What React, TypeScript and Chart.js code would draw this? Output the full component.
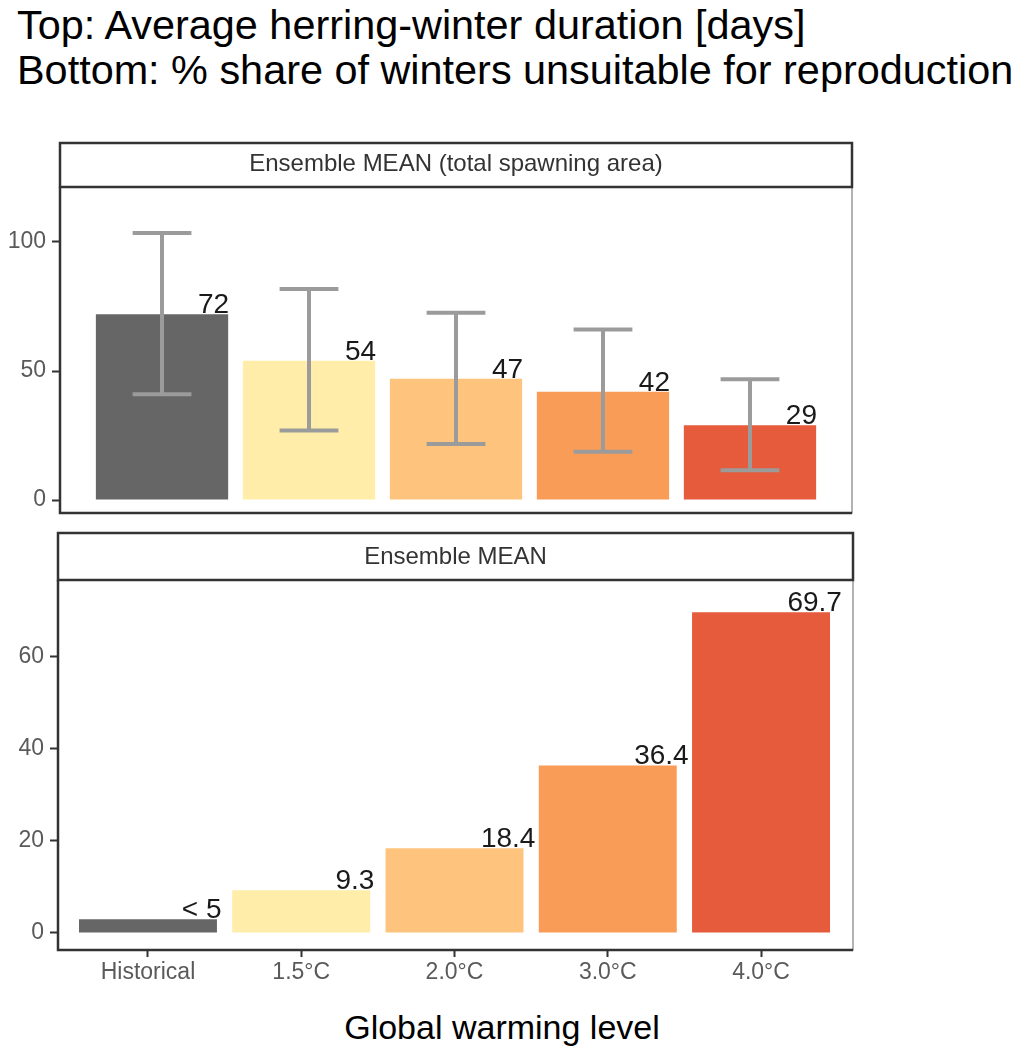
import React, { useEffect, useRef } from 'react';
import { Chart, registerables } from 'chart.js';

Chart.register(...registerables);

const FONT = '"Liberation Sans", Arial, Helvetica, sans-serif';

const levels = ['Historical', '1.5°C', '2.0°C', '3.0°C', '4.0°C'];
const barColors = ['#666666', '#FFEDA9', '#FEC47D', '#F89C57', '#E55B3B'];

// top panel: average herring-winter duration [days]
const durationMean = [72, 54, 47, 42, 29];
const durationLow = [41, 27, 21.7, 18.7, 11.6];
const durationHigh = [103.5, 81.8, 72.6, 66.1, 46.8];
const durationLabels = ['72', '54', '47', '42', '29'];
const durationTicks = [0, 50, 100];

// bottom panel: % share of winters unsuitable for reproduction
const unsuitableShare = [3, 9.3, 18.4, 36.4, 69.7];
const unsuitableLabels = ['< 5', '9.3', '18.4', '36.4', '69.7'];
const unsuitableTicks = [0, 20, 40, 60];

interface PanelProps {
  top: number;
  width: number;
  height: number;
  values: number[];
  labels: string[];
  low?: number[];
  high?: number[];
  yTicks: number[];
  yMin: number;
  yMax: number;
  xMin: number;
  xMax: number;
  strip: string;
  stripHeight: number;
  axisWidth: number;
  padding: { top: number; right: number; bottom: number; left: number };
  showX: boolean;
}

const Panel: React.FC<PanelProps> = (p) => {
  const canvasRef = useRef<HTMLCanvasElement>(null);

  useEffect(() => {
    if (!canvasRef.current) return;
    const ctx = canvasRef.current.getContext('2d');
    if (!ctx) return;

    const decor = {
      id: 'decor',
      afterDatasetsDraw(chart: any) {
        const c = chart.ctx;
        const xs = chart.scales.x;
        const ys = chart.scales.y;
        c.save();
        // error bars
        if (p.low && p.high) {
          c.strokeStyle = '#9B9B9B';
          c.lineWidth = 4;
          p.values.forEach((_, i) => {
            const x = xs.getPixelForValue(i + 1);
            const half = xs.getPixelForValue(i + 1.2) - x;
            const y1 = ys.getPixelForValue(p.low![i]);
            const y2 = ys.getPixelForValue(p.high![i]);
            c.beginPath();
            c.moveTo(x, y1);
            c.lineTo(x, y2);
            c.moveTo(x - half, y1);
            c.lineTo(x + half, y1);
            c.moveTo(x - half, y2);
            c.lineTo(x + half, y2);
            c.stroke();
          });
        }
        // value labels
        c.fillStyle = '#1a1a1a';
        c.font = `28px ${FONT}`;
        c.textAlign = 'center';
        c.textBaseline = 'alphabetic';
        p.values.forEach((v, i) => {
          c.fillText(p.labels[i], xs.getPixelForValue(i + 1.35), ys.getPixelForValue(v) - 1);
        });
        c.restore();
      },
      afterDraw(chart: any) {
        const c = chart.ctx;
        const a = chart.chartArea;
        const w = a.right - a.left;
        c.save();
        c.strokeStyle = '#9a9a9a';
        c.lineWidth = 1.5;
        c.strokeRect(a.left, a.top, w, a.bottom - a.top);
        c.strokeStyle = '#333333';
        c.lineWidth = 2.5;
        c.beginPath();
        c.moveTo(a.left, a.top);
        c.lineTo(a.left, a.bottom);
        c.lineTo(a.right, a.bottom);
        c.stroke();
        // facet strip
        c.fillStyle = '#ffffff';
        c.fillRect(a.left, a.top - p.stripHeight, w, p.stripHeight);
        c.strokeRect(a.left, a.top - p.stripHeight, w, p.stripHeight);
        c.fillStyle = '#333333';
        c.font = `24px ${FONT}`;
        c.textAlign = 'center';
        c.textBaseline = 'alphabetic';
        c.fillText(p.strip, (a.left + a.right) / 2, a.top - 16);
        c.restore();
      },
    };

    const chart = new Chart(ctx, {
      type: 'bar',
      data: {
        datasets: [
          {
            data: p.values.map((v, i) => ({ x: i + 1, y: v })),
            backgroundColor: barColors,
            borderWidth: 0,
            barPercentage: 0.9,
            categoryPercentage: 1,
          },
        ],
      },
      options: {
        animation: false,
        responsive: false,
        devicePixelRatio: 1,
        layout: { padding: p.padding },
        plugins: {
          legend: { display: false },
          tooltip: { enabled: false },
        },
        scales: {
          x: {
            type: 'linear',
            display: p.showX,
            min: p.xMin,
            max: p.xMax,
            offset: false,
            afterBuildTicks: (scale: any) => {
              scale.ticks = levels.map((_, i) => ({ value: i + 1 }));
            },
            afterFit: (scale: any) => {
              scale.height = p.showX ? 40 : 0;
              scale.paddingLeft = 0;
              scale.paddingRight = 0;
            },
            grid: {
              offset: false,
              drawOnChartArea: false,
              drawTicks: true,
              tickLength: 7,
              tickWidth: 2,
              tickColor: '#333333',
            },
            border: { display: false },
            ticks: {
              autoSkip: false,
              maxRotation: 0,
              padding: 2,
              color: '#5a5a5a',
              font: { family: FONT, size: 23 },
              callback: (value: any) => levels[Math.round(Number(value)) - 1] ?? '',
            },
          },
          y: {
            type: 'linear',
            min: p.yMin,
            max: p.yMax,
            afterBuildTicks: (scale: any) => {
              scale.ticks = p.yTicks.map((v) => ({ value: v }));
            },
            afterFit: (scale: any) => {
              scale.width = p.axisWidth;
              scale.paddingTop = 0;
              scale.paddingBottom = 0;
            },
            grid: {
              drawOnChartArea: false,
              drawTicks: true,
              tickLength: 8,
              tickWidth: 2,
              tickColor: '#333333',
            },
            border: { display: false },
            ticks: {
              padding: 6,
              color: '#5a5a5a',
              font: { family: FONT, size: 23 },
            },
          },
        },
      },
      plugins: [decor],
    });

    return () => {
      chart.destroy();
    };
  }, []);

  return (
    <canvas
      ref={canvasRef}
      width={p.width}
      height={p.height}
      style={{ position: 'absolute', left: 0, top: p.top, width: p.width, height: p.height }}
    />
  );
};

export default function App() {
  return (
    <div
      style={{
        position: 'absolute',
        left: 0,
        top: 0,
        width: 1029,
        height: 1050,
        background: '#ffffff',
        overflow: 'hidden',
        fontFamily: FONT,
      }}
    >
      <div
        style={{
          position: 'absolute',
          left: 17,
          top: 3,
          fontSize: 41.4,
          lineHeight: '45px',
          color: '#000',
          whiteSpace: 'nowrap',
        }}
      >
        <div>Top: Average herring-winter duration [days]</div>
        <div>Bottom: % share of winters unsuitable for reproduction</div>
      </div>

      <Panel
        top={130}
        width={900}
        height={390}
        values={durationMean}
        labels={durationLabels}
        low={durationLow}
        high={durationHigh}
        yTicks={durationTicks}
        yMin={-5}
        yMax={121.3}
        xMin={0.306}
        xMax={5.694}
        strip="Ensemble MEAN (total spawning area)"
        stripHeight={44}
        axisWidth={60}
        padding={{ top: 57, right: 48, bottom: 7, left: 0 }}
        showX={false}
      />

      <Panel
        top={520}
        width={900}
        height={480}
        values={unsuitableShare}
        labels={unsuitableLabels}
        yTicks={unsuitableTicks}
        yMin={-3.7}
        yMax={76.7}
        xMin={0.413}
        xMax={5.6}
        strip="Ensemble MEAN"
        stripHeight={47}
        axisWidth={58}
        padding={{ top: 60, right: 47, bottom: 10, left: 0 }}
        showX={true}
      />

      <div
        style={{
          position: 'absolute',
          left: 302,
          top: 1010,
          width: 400,
          textAlign: 'center',
          fontSize: 34,
          lineHeight: '34px',
          color: '#000',
          whiteSpace: 'nowrap',
        }}
      >
        Global warming level
      </div>
    </div>
  );
}
